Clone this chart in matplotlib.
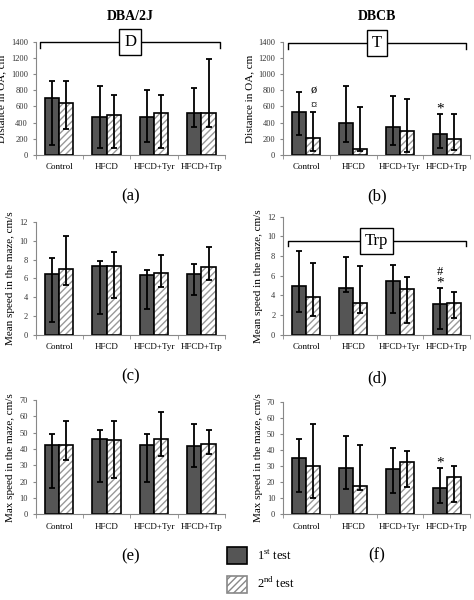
import matplotlib.pyplot as plt
from matplotlib.patches import Patch
import numpy as np

plt.rcParams['font.family'] = ['Liberation Serif', 'DejaVu Serif']
plt.rcParams['mathtext.fontset'] = 'custom'
plt.rcParams['mathtext.rm'] = 'Liberation Serif'

groups = ["Control", "HFCD", "HFCD+Tyr", "HFCD+Trp"]

# mean, lower end of error bar, upper end of error bar
a1 = [700, 470, 470, 525]; a1_lo = [120, 90, 155, 350]; a1_hi = [920, 855, 810, 830]
a2 = [640, 490, 525, 525]; a2_lo = [325, 90, 80, 350]; a2_hi = [910, 740, 740, 1195]
b1 = [535, 400, 350, 260]; b1_lo = [250, 155, 120, 85]; b1_hi = [775, 860, 730, 510]
b2 = [210, 75, 290, 190]; b2_lo = [50, 50, 40, 60]; b2_hi = [535, 590, 695, 510]
c1 = [6.5, 7.3, 6.4, 6.5]; c1_lo = [1.4, 2.2, 2.7, 4.2]; c1_hi = [8.2, 7.9, 6.9, 7.5]
c2 = [7.0, 7.3, 6.6, 7.2]; c2_lo = [5.3, 3.9, 5.1, 5.8]; c2_hi = [10.5, 8.8, 8.5, 9.3]
d1 = [5.0, 4.8, 5.5, 3.1]; d1_lo = [2.3, 4.3, 2.2, 0.6]; d1_hi = [8.5, 7.9, 7.1, 4.8]
d2 = [3.8, 3.2, 4.7, 3.2]; d2_lo = [1.9, 2.2, 1.2, 1.7]; d2_hi = [7.3, 7.0, 5.9, 4.3]
e1 = [42.5, 46, 42.5, 42]; e1_lo = [16, 19.5, 20, 29]; e1_hi = [49, 51.5, 49, 55.5]
e2 = [42.5, 45.5, 46, 43]; e2_lo = [33, 22, 36, 37]; e2_hi = [57, 57.5, 63, 52]
f1 = [35, 29, 28, 16.5]; f1_lo = [14, 15.5, 13, 7]; f1_hi = [47, 49, 41, 29]
f2 = [30, 17.5, 32.5, 23.5]; f2_lo = [10, 15, 17, 7.5]; f2_hi = [56.5, 43, 39.5, 30]

fig = plt.figure(figsize=(4.74, 6), dpi=100)

def panel(rect, s1, lo1, hi1, s2, lo2, hi2, ymax, ystep, ylabel, letter):
    ax = fig.add_axes(rect)
    x = np.arange(len(groups))
    w = 0.3
    ax.bar(x - w/2, s1, w, color="#555555", edgecolor="black", lw=1.2, zorder=2)
    ax.bar(x + w/2, s2, w, color="white", edgecolor="#999999", hatch="/////", lw=0, zorder=2)
    ax.bar(x + w/2, s2, w, color="none", edgecolor="black", lw=1.2, zorder=3)
    for xs, s, lo, hi in ((x - w/2, s1, lo1, hi1), (x + w/2, s2, lo2, hi2)):
        s = np.array(s)
        ax.errorbar(xs, s, yerr=[s - np.array(lo), np.array(hi) - s], fmt="none",
                    ecolor="black", elinewidth=1.3, capsize=2, capthick=1.3, zorder=4)
    ax.set_xlim(-0.5, 3.5)
    ax.set_ylim(0, ymax)
    ax.set_yticks(np.arange(0, ymax + ystep/2, ystep))
    ax.set_xticks(x)
    ax.set_xticklabels(groups, fontsize=6.5)
    ax.set_xticks(np.arange(-0.5, 4, 1), minor=True)
    ax.tick_params(axis="x", which="major", length=0, pad=6)
    ax.tick_params(axis="x", which="minor", length=3, color="#888888")
    ax.tick_params(axis="y", labelsize=6, length=2, color="#888888", labelcolor="#333333")
    for s in ("top", "right"):
        ax.spines[s].set_visible(False)
    for s in ("left", "bottom"):
        ax.spines[s].set_color("#888888")
    ax.set_ylabel(ylabel, fontsize=8, labelpad=3)
    ax.text(0.5, -0.3, letter, transform=ax.transAxes, ha="center", va="top", fontsize=12)
    return ax

def bracket(ax, y, tip, label):
    ax.plot([-0.4, -0.4, 3.4, 3.4], [tip, y, y, tip], color="black", lw=1, clip_on=False)
    ax.text(1.5, y, label, ha="center", va="center", fontsize=12, clip_on=False,
            bbox=dict(boxstyle="square,pad=0.3", fc="white", ec="black", lw=1))

axa = panel([0.075, 0.742, 0.4, 0.188], a1, a1_lo, a1_hi, a2, a2_lo, a2_hi, 1400, 200, "Distance in OA, cm", "(a)")
axb = panel([0.597, 0.742, 0.395, 0.188], b1, b1_lo, b1_hi, b2, b2_lo, b2_hi, 1400, 200, "Distance in OA, cm", "(b)")
axc = panel([0.075, 0.442, 0.4, 0.188], c1, c1_lo, c1_hi, c2, c2_lo, c2_hi, 12, 2, "Mean speed in the maze, cm/s", "(c)")
axd = panel([0.597, 0.442, 0.395, 0.197], d1, d1_lo, d1_hi, d2, d2_lo, d2_hi, 12, 2, "Mean speed in the maze, cm/s", "(d)")
axe = panel([0.075, 0.143, 0.4, 0.19], e1, e1_lo, e1_hi, e2, e2_lo, e2_hi, 70, 10, "Max speed in the maze, cm/s", "(e)")
axf = panel([0.597, 0.143, 0.395, 0.187], f1, f1_lo, f1_hi, f2, f2_lo, f2_hi, 70, 10, "Max speed in the maze, cm/s", "(f)")

bracket(axa, 1400, 1320, "D")
bracket(axb, 1390, 1310, "T")
bracket(axd, 9.5, 9.0, "Trp")

axa.set_title("DBA/2J", fontsize=10, fontweight="bold", pad=16)
axb.set_title("DBCB", fontsize=10, fontweight="bold", pad=16)

# significance marks
axb.text(0.15, 570, "¤", ha="center", fontsize=9)
axb.text(0.15, 760, "ø", ha="center", fontsize=9)
axb.text(2.85, 530, "*", ha="center", fontsize=11)
axd.text(2.85, 4.9, "*", ha="center", fontsize=11)
axd.text(2.85, 6.1, "#", ha="center", fontsize=9)
axf.text(2.85, 29.5, "*", ha="center", fontsize=11)

handles = [Patch(facecolor="#555555", edgecolor="black", lw=1.2),
           Patch(facecolor="white", edgecolor="#888888", hatch="/////", lw=1.2)]
fig.legend(handles, [r"1$^{\mathrm{st}}$ test", r"2$^{\mathrm{nd}}$ test"], loc="center",
           bbox_to_anchor=(0.55, 0.05), frameon=False, fontsize=9,
           handlelength=1.6, handleheight=1.8, labelspacing=0.9)

fig.savefig("out.png", dpi=100)
